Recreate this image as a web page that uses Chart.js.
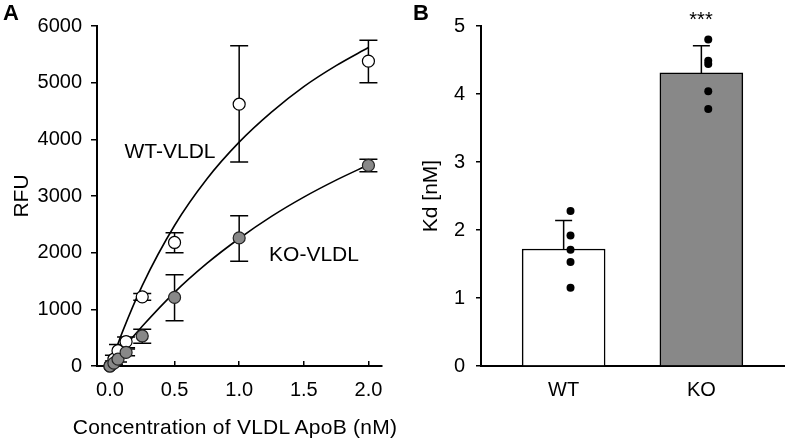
<!DOCTYPE html>
<html>
<head>
<meta charset="utf-8">
<script src="https://cdn.jsdelivr.net/npm/chart.js@4/dist/chart.umd.min.js"></script>
<style>
  html, body { margin: 0; padding: 0; background: #fff; }
  #wrap { position: relative; width: 788px; height: 440px; overflow: hidden; font-family: 'Liberation Sans', Arial, sans-serif; color: #000; }
  canvas { position: absolute; top: 0; }
  .lbl { position: absolute; white-space: nowrap; line-height: 1; }
  .panel { font-weight: bold; font-size: 22px; line-height: 22px; }
  .ann { font-size: 21px; line-height: 21px; transform: translate(-50%, -50%); }
  .star { font-size: 20px; line-height: 20px; transform: translateX(-50%); }
  .xt { font-size: 21px; line-height: 21px; letter-spacing: 0.25px; transform: translateX(-50%); }
</style>
</head>
<body>
<div id="wrap">
  <canvas id="cA" width="400" height="440" style="left:0px"></canvas>
  <canvas id="cB" width="388" height="440" style="left:400px"></canvas>
  <div class="lbl panel" style="left:3px; top:2px;">A</div>
  <div class="lbl panel" style="left:413px; top:2px;">B</div>
  <div class="lbl ann" style="left:170px; top:150px;">WT-VLDL</div>
  <div class="lbl ann" style="left:314px; top:253px;">KO-VLDL</div>
  <div class="lbl star" style="left:701px; top:9px;">***</div>
  <div class="lbl xt" style="left:235px; top:416px;">Concentration of VLDL ApoB (nM)</div>
</div>
<script>
// ---------- Panel A data ----------
const conc      = [0, 0.031, 0.0625, 0.125, 0.25, 0.5, 1, 2];
const wtMean    = [0, 120, 270, 430, 1220, 2180, 4620, 5380];
const wtLow     = [0, 60, 150, 320, 1160, 2000, 3600, 5000];
const wtHigh    = [0, 190, 380, 510, 1280, 2350, 5650, 5750];
const koMean    = [0, 50, 120, 240, 530, 1210, 2260, 3540];
const koLow     = [0, 20, 70, 180, 400, 800, 1850, 3430];
const koHigh    = [0, 90, 170, 300, 650, 1610, 2650, 3650];
// fitted curves
const fitX      = [0, 0.1, 0.25, 0.5, 0.75, 1, 1.25, 1.5, 1.75, 2];
const wtFitY    = [0, 620, 1420, 2480, 3300, 3950, 4480, 4930, 5300, 5620];
const koFitY    = [0, 300, 700, 1300, 1810, 2250, 2640, 2980, 3280, 3550];
const xTicksA   = [0, 0.5, 1, 1.5, 2];
const xTickLblA = ['0.0', '0.5', '1.0', '1.5', '2.0'];
const yTicksA   = [0, 1000, 2000, 3000, 4000, 5000, 6000];
const yTickLblA = ['0', '1000', '2000', '3000', '4000', '5000', '6000'];

// ---------- Panel B data ----------
const categories = ['WT', 'KO'];
const kdMean     = [1.72, 4.31];
const kdSD       = [0.42, 0.40];
const wtDots     = [2.28, 1.92, 1.71, 1.53, 1.15];
const koDots     = [4.80, 4.49, 4.44, 4.04, 3.78];
const yTicksB    = [0, 1, 2, 3, 4, 5];

const FONT = "'Liberation Sans', Arial, sans-serif";
Chart.defaults.font.family = FONT;
Chart.defaults.color = '#000';

function toPts(xs, ys) { return xs.map((x, i) => ({ x: x, y: ys[i] })); }

// error bars for panel A
const errA = {
  id: 'errA',
  beforeDatasetsDraw(chart) {
    const c = chart.ctx, xs = chart.scales.x, ys = chart.scales.y;
    const cap = 9;
    c.save();
    c.strokeStyle = '#000';
    c.lineWidth = 1.5;
    [[wtLow, wtHigh], [koLow, koHigh]].forEach(([lo, hi]) => {
      conc.forEach((x, i) => {
        if (hi[i] === lo[i]) return;
        const px = xs.getPixelForValue(x);
        const y1 = ys.getPixelForValue(lo[i]);
        const y2 = ys.getPixelForValue(hi[i]);
        c.beginPath();
        c.moveTo(px, y1); c.lineTo(px, y2);
        c.moveTo(px - cap, y1); c.lineTo(px + cap, y1);
        c.moveTo(px - cap, y2); c.lineTo(px + cap, y2);
        c.stroke();
      });
    });
    c.restore();
  }
};

new Chart(document.getElementById('cA'), {
  type: 'scatter',
  data: {
    datasets: [
      { label: 'WT-VLDL', data: toPts(conc, wtMean), showLine: false, pointRadius: 6,
        pointBackgroundColor: '#ffffff', pointBorderColor: '#000', pointBorderWidth: 1.2, order: 1, clip: false },
      { label: 'KO-VLDL', data: toPts(conc, koMean), showLine: false, pointRadius: 6,
        pointBackgroundColor: '#888888', pointBorderColor: '#222', pointBorderWidth: 1.2, order: 0, clip: false },
      { label: 'WT fit', data: toPts(fitX, wtFitY), showLine: true, pointRadius: 0, borderColor: '#000',
        borderWidth: 1.6, cubicInterpolationMode: 'monotone', order: 5, clip: false },
      { label: 'KO fit', data: toPts(fitX, koFitY), showLine: true, pointRadius: 0, borderColor: '#000',
        borderWidth: 1.6, cubicInterpolationMode: 'monotone', order: 6, clip: false }
    ]
  },
  options: {
    responsive: false, animation: false, devicePixelRatio: 1,
    layout: { padding: { left: 0, right: 15, top: 26, bottom: 0 } },
    plugins: { legend: { display: false }, tooltip: { enabled: false } },
    scales: {
      x: {
        type: 'linear', min: -0.1, max: 2.1,
        afterFit(s) { s.height = 74; },
        afterBuildTicks(s) { s.ticks = xTicksA.map(v => ({ value: v })); },
        ticks: { callback: (v) => xTickLblA[xTicksA.indexOf(v)], color: '#000', font: { size: 20 }, padding: 17, maxRotation: 0, autoSkip: false },
        grid: { drawOnChartArea: false, tickLength: -5, color: '#000', lineWidth: 1.5 },
        border: { color: '#000', width: 2 }
      },
      y: {
        type: 'linear', min: 0, max: 6000,
        afterFit(s) { s.width = 97; },
        afterBuildTicks(s) { s.ticks = yTicksA.map(v => ({ value: v })); },
        ticks: { callback: (v) => yTickLblA[yTicksA.indexOf(v)], color: '#000', font: { size: 20 }, padding: 9, autoSkip: false },
        grid: { drawOnChartArea: false, tickLength: 6, color: '#000', lineWidth: 1.5 },
        border: { color: '#000', width: 2 },
        title: { display: true, text: 'RFU', color: '#000', font: { size: 21 }, padding: { top: 10, bottom: 0 } }
      }
    }
  },
  plugins: [errA]
});

// error bars for panel B (upper only)
const errB = {
  id: 'errB',
  beforeDatasetsDraw(chart) {
    const c = chart.ctx, xs = chart.scales.x, ys = chart.scales.y;
    const cap = 8.5;
    c.save();
    c.strokeStyle = '#000';
    c.lineWidth = 1.5;
    kdMean.forEach((m, i) => {
      const px = xs.getPixelForValue(i);
      const y1 = ys.getPixelForValue(m);
      const y2 = ys.getPixelForValue(m + kdSD[i]);
      c.beginPath();
      c.moveTo(px, y1); c.lineTo(px, y2);
      c.moveTo(px - cap, y2); c.lineTo(px + cap, y2);
      c.stroke();
    });
    c.restore();
  }
};

const dotShift = 0.05;
new Chart(document.getElementById('cB'), {
  type: 'bar',
  data: {
    datasets: [
      { type: 'scatter', label: 'WT dots', data: wtDots.map(v => ({ x: 0 + dotShift, y: v })), pointRadius: 4,
        pointBackgroundColor: '#000', pointBorderColor: '#000', pointBorderWidth: 0, order: 0, clip: false },
      { type: 'scatter', label: 'KO dots', data: koDots.map(v => ({ x: 1 + dotShift, y: v })), pointRadius: 4,
        pointBackgroundColor: '#000', pointBorderColor: '#000', pointBorderWidth: 0, order: 0, clip: false },
      { type: 'bar', label: 'Kd', data: categories.map((c, i) => ({ x: i, y: kdMean[i] })),
        backgroundColor: ['#ffffff', '#888888'], borderColor: '#000', borderWidth: 1.5, barThickness: 83, order: 3 }
    ]
  },
  options: {
    responsive: false, animation: false, devicePixelRatio: 1,
    layout: { padding: { left: 0, right: 2, top: 26, bottom: 0 } },
    plugins: { legend: { display: false }, tooltip: { enabled: false } },
    scales: {
      x: {
        type: 'linear', min: -0.6, max: 1.6, offset: false,
        afterFit(s) { s.height = 74; },
        afterBuildTicks(s) { s.ticks = categories.map((c, i) => ({ value: i })); },
        ticks: { callback: (v) => categories[v], color: '#000', font: { size: 20 }, padding: 12, maxRotation: 0, autoSkip: false },
        grid: { drawOnChartArea: false, drawTicks: false, color: 'rgba(0,0,0,0)' },
        border: { color: '#000', width: 2 }
      },
      y: {
        type: 'linear', min: 0, max: 5,
        afterFit(s) { s.width = 81; },
        afterBuildTicks(s) { s.ticks = yTicksB.map(v => ({ value: v })); },
        ticks: { color: '#000', font: { size: 20 }, padding: 11, autoSkip: false },
        grid: { drawOnChartArea: false, tickLength: 5, color: '#000', lineWidth: 1.5 },
        border: { color: '#000', width: 2 },
        title: { display: true, text: 'Kd [nM]', color: '#000', font: { size: 21 }, padding: { top: 19, bottom: 0 } }
      }
    }
  },
  plugins: [errB]
});
</script>
</body>
</html>
